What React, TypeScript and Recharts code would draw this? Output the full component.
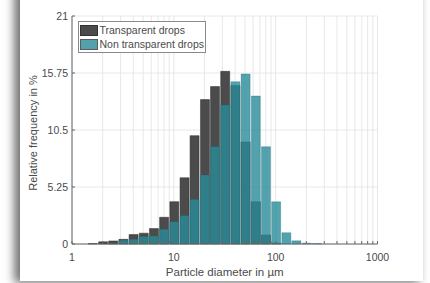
import React from 'react'
import { ComposedChart, Bar, XAxis, YAxis, CartesianGrid, Legend, Label } from 'recharts'

// bin centres (log spaced, 10 bins per decade), in µm
const binCenters = [1.58, 2.0, 2.51, 3.16, 3.98, 5.01, 6.31, 7.94, 10, 12.6, 15.8, 20, 25.1, 31.6, 39.8, 50.1, 63.1, 79.4, 100, 126, 158, 200, 251, 316]
const transparentDrops = [0.04, 0.2, 0.28, 0.43, 0.87, 1.0, 1.42, 2.46, 3.9, 6.1, 9.98, 13.3, 14.5, 15.9, 14.6, 9.4, 3.9, 0.83, 0.1, 0, 0, 0, 0, 0]
const nonTransparentDrops = [0, 0, 0.03, 0.34, 0.43, 0.68, 0.74, 1.35, 2.06, 2.6, 4.1, 6.35, 8.96, 12.8, 14.95, 15.66, 13.63, 8.96, 3.88, 1.04, 0.29, 0.08, 0.04, 0]

const xTicks = [1, 2, 3, 4, 5, 6, 7, 8, 9, 10, 20, 30, 40, 50, 60, 70, 80, 90, 100, 200, 300, 400, 500, 600, 700, 800, 900, 1000]
const xTickLabels = [1, 10, 100, 1000]
const yTicks = [0, 5.25, 10.5, 15.75, 21]

const seriesNames = ['Transparent drops', 'Non transparent drops']

const data = binCenters.map((d, i) => ({
  d,
  transparent: transparentDrops[i],
  nonTransparent: nonTransparentDrops[i],
}))

const font = '"Liberation Sans", Arial, sans-serif'
const textColor = '#4a4a4a'
const axisColor = '#666'
const darkFill = '#4b4b4b'
const tealFill = '#288c9b'

function LegendBox() {
  const rows = [
    { name: seriesNames[0], fill: darkFill, opacity: 1 },
    { name: seriesNames[1], fill: tealFill, opacity: 0.8 },
  ]
  return (
    <div
      style={{
        border: '1px solid #8a8a8a',
        background: '#fff',
        padding: '2px 1px 1px 1px',
        fontFamily: font,
        fontSize: 10.5,
        color: textColor,
        lineHeight: '13px',
      }}
    >
      {rows.map(r => (
        <div key={r.name} style={{ display: 'flex', alignItems: 'center', height: 13.5 }}>
          <span
            style={{
              display: 'inline-block',
              width: 16,
              height: 9,
              background: r.fill,
              opacity: r.opacity,
              marginRight: 1.5,
              border: '0.5px solid #333',
            }}
          />
          <span style={{ whiteSpace: 'nowrap' }}>{r.name}</span>
        </div>
      ))}
    </div>
  )
}

export default function App() {
  const tickStyle = { fontFamily: font, fontSize: 10.5, fill: textColor }
  return (
    <div style={{ position: 'fixed', left: 0, top: 0, width: 430, height: 283, overflow: 'hidden', background: '#fff' }}>
      <div
        style={{
          position: 'absolute',
          left: 20,
          top: -20,
          width: 403,
          height: 301,
          background: '#fff',
          boxShadow: '-5px 1px 9px 1px rgba(0,0,0,0.55)',
        }}
      />
      <div style={{ position: 'absolute', left: 0, top: 0 }}>
        <ComposedChart
          width={430}
          height={283}
          data={data}
          margin={{ top: 16, right: 52.5, bottom: 0, left: 0 }}
        >
          <CartesianGrid stroke="#e2e2e2" strokeWidth={0.8} />
          <XAxis
            dataKey="d"
            type="number"
            scale="log"
            domain={[1, 1000]}
            allowDataOverflow
            ticks={xTicks}
            interval={0}
            height={39}
            stroke={axisColor}
            tickSize={-3}
            tickMargin={13}
            tick={tickStyle}
            tickFormatter={(v: number) => (xTickLabels.includes(v) ? String(v) : '')}
          >
            <Label
              value="Particle diameter in µm"
              position="insideBottom"
              offset={7}
              style={{ fontFamily: font, fontSize: 11.5, fill: textColor }}
            />
          </XAxis>
          <XAxis
            xAxisId="top"
            orientation="top"
            dataKey="d"
            type="number"
            scale="log"
            domain={[1, 1000]}
            allowDataOverflow
            ticks={xTicks}
            interval={0}
            height={0}
            stroke={axisColor}
            tickSize={-3}
            tick={false}
          />
          <YAxis
            domain={[0, 21]}
            ticks={yTicks}
            interval={0}
            width={72}
            stroke={axisColor}
            tickSize={-3}
            tickMargin={7}
            tick={tickStyle}
          >
            <Label
              value="Relative frequency in %"
              angle={-90}
              position="insideLeft"
              offset={33}
              dy={3}
              style={{ fontFamily: font, fontSize: 11, fill: textColor, textAnchor: 'middle' }}
            />
          </YAxis>
          <YAxis
            yAxisId="r"
            orientation="right"
            domain={[0, 21]}
            ticks={yTicks}
            interval={0}
            width={0}
            stroke={axisColor}
            tickSize={-3}
            tick={false}
          />
          <Bar
            dataKey="transparent"
            name={seriesNames[0]}
            fill={darkFill}
            stroke="#2e2e2e"
            strokeWidth={0.5}
            barSize={10.18}
            isAnimationActive={false}
          />
          <Bar
            dataKey="nonTransparent"
            name={seriesNames[1]}
            xAxisId="top"
            fill={tealFill}
            fillOpacity={0.8}
            stroke="#1c6470"
            strokeOpacity={0.6}
            strokeWidth={0.5}
            barSize={10.18}
            isAnimationActive={false}
          />
          <Legend
            layout="vertical"
            align="center"
            verticalAlign="middle"
            content={() => <LegendBox />}
            wrapperStyle={{ left: 78, top: 21, width: 'auto' }}
          />
        </ComposedChart>
      </div>
    </div>
  )
}
